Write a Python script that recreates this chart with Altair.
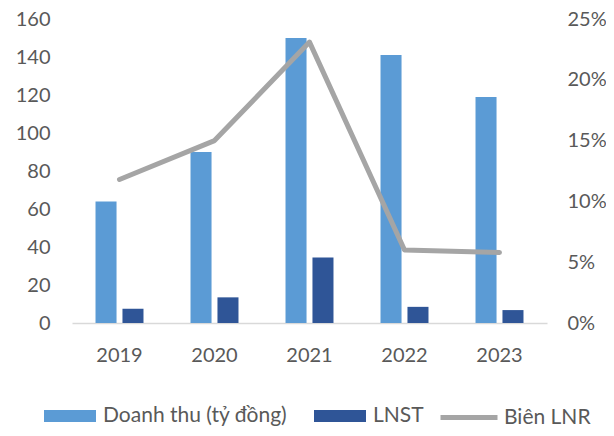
import altair as alt
import pandas as pd

years = ["2019", "2020", "2021", "2022", "2023"]
doanh_thu = [64, 90, 150, 141, 119]
lnst = [7.5, 13.5, 34.5, 8.5, 6.8]
bien_lnr = [0.118, 0.150, 0.231, 0.060, 0.058]

DT = "Doanh thu (tỷ đồng)"
LN = "LNST"
BL = "Biên LNR"

bars_df = pd.DataFrame(
    {"year": years * 2, "series": [DT] * 5 + [LN] * 5, "value": doanh_thu + lnst}
)
line_df = pd.DataFrame({"year": years, "series": [BL] * 5, "value": bien_lnr})

FONT = "Lato"
GRAY = "#595959"
FS = 20
LFS = 21
RECT = "M-1,-0.23H1V0.23H-1Z"

xscale = alt.Scale(paddingInner=0.495, paddingOuter=0.2475)
x_enc = alt.X(
    "year:N",
    scale=xscale,
    axis=alt.Axis(
        title=None, labelAngle=0, ticks=False, domainColor="#d9d9d9", domainWidth=1.5,
        labelPadding=22, labelFont=FONT, labelFontSize=FS, labelColor=GRAY,
    ),
)
xoff = alt.XOffset("series:N", scale=alt.Scale(domain=[DT, LN], paddingInner=0.22, paddingOuter=0))
y_left = alt.Y(
    "value:Q",
    scale=alt.Scale(domain=[0, 160]),
    axis=alt.Axis(
        title=None, values=list(range(0, 161, 20)), domain=False, ticks=False, grid=False,
        labelPadding=22, labelFont=FONT, labelFontSize=FS, labelColor=GRAY,
    ),
)

def leg(x, y, shape, size, offset=6, **kw):
    return alt.Legend(
        orient="none", legendX=x, legendY=y, title=None, padding=0,
        symbolType=shape, symbolSize=size, labelFont=FONT, labelFontSize=LFS,
        labelColor=GRAY, labelOffset=offset, labelLimit=400, **kw,
    )

bar_dt = (
    alt.Chart(bars_df)
    .transform_filter(alt.datum.series == DT)
    .transform_calculate(dt_name="datum.series")
    .mark_bar()
    .encode(
        x=x_enc, xOffset=xoff, y=y_left,
        fill=alt.Fill("dt_name:N", scale=alt.Scale(domain=[DT], range=["#5b9bd5"]),
                      legend=leg(-29, 370, RECT, 2704)),
    )
)
bar_ln = (
    alt.Chart(bars_df)
    .transform_filter(alt.datum.series == LN)
    .transform_calculate(ln_name="datum.series")
    .mark_bar()
    .encode(
        x=x_enc, xOffset=xoff, y=y_left,
        color=alt.Color("ln_name:N", scale=alt.Scale(domain=[LN], range=["#2f5597"]),
                        legend=leg(241, 370, RECT, 2704)),
    )
)
line = (
    alt.Chart(line_df)
    .transform_calculate(bl_name="datum.series")
    .mark_line(strokeWidth=5, strokeCap="round", strokeJoin="round")
    .encode(
        x=x_enc,
        y=alt.Y(
            "value:Q",
            scale=alt.Scale(domain=[0, 0.25]),
            axis=alt.Axis(
                orient="right", title=None, format=".0%", values=[0, 0.05, 0.1, 0.15, 0.2, 0.25],
                domain=False, ticks=False, grid=False, labelPadding=20,
                labelFont=FONT, labelFontSize=FS, labelColor=GRAY,
            ),
        ),
        stroke=alt.Stroke("bl_name:N", scale=alt.Scale(domain=[BL], range=["#a5a5a5"]),
                          legend=leg(366, 367.5, "stroke", 3249, offset=4, symbolStrokeWidth=5)),
    )
)

chart = (
    alt.layer(alt.layer(bar_dt, bar_ln), line)
    .resolve_scale(y="independent")
    .properties(
        width=475, height=304,
        autosize=alt.AutoSizeParams(type="none"),
        padding={"left": 64, "top": 11, "right": 59, "bottom": 105},
    )
    .configure_view(stroke=None)
)

chart.save("out.html", embed_options={"renderer": "svg", "actions": False})
